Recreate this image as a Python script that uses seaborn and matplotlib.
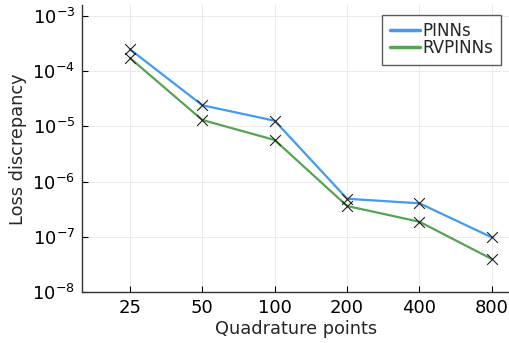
import numpy as np
import pandas as pd
import seaborn as sns
import matplotlib
matplotlib.use("Agg")
import matplotlib.pyplot as plt

quad_points = ["25", "50", "100", "200", "400", "800"]
pinns = [2.47e-4, 2.4e-5, 1.26e-5, 4.9e-7, 4.05e-7, 9.8e-8]
rvpinns = [1.72e-4, 1.3e-5, 5.65e-6, 3.62e-7, 1.88e-7, 3.98e-8]
series_names = ["PINNs", "RVPINNs"]
colors = ["#429bf2", "#56a352"]

pos = np.arange(len(quad_points))
df = pd.DataFrame({
    "pos": np.concatenate([pos, pos]),
    "loss": pinns + rvpinns,
    "method": [series_names[0]] * len(pos) + [series_names[1]] * len(pos),
})

sns.set_style("white")
plt.rcParams['font.family'] = ['DejaVu Sans']

fig = plt.figure(figsize=(5.10, 3.43), dpi=100)
ax = fig.add_axes([0.161, 0.148, 0.839, 0.837])

sns.lineplot(data=df, x="pos", y="loss", hue="method", palette=colors,
             linewidth=1.6, ax=ax, legend=True)
sns.scatterplot(data=df, x="pos", y="loss", marker="x", color="#222222",
                s=60, linewidth=0.8, ax=ax, legend=False, zorder=5)

ax.set_yscale("log")
ax.set_ylim(1e-8, 10**-2.81)
ax.set_xlim(-0.66, 5.25)
ax.set_yticks([1e-8, 1e-7, 1e-6, 1e-5, 1e-4, 1e-3])
ax.minorticks_off()
ax.set_xticks(pos)
ax.set_xticklabels(quad_points)
ax.grid(True, color="#ebebeb", linewidth=0.7)
ax.set_xlabel("Quadrature points", fontsize=12.8, labelpad=2)
ax.set_ylabel("Loss discrepancy", fontsize=12.8, labelpad=4)
ax.tick_params(axis="both", labelsize=13, direction="in", length=4, width=0.8,
               colors="black", left=True, bottom=True, pad=5)
for s in ["top", "right"]:
    ax.spines[s].set_visible(False)
for s in ["left", "bottom"]:
    ax.spines[s].set_color("#333333")
    ax.spines[s].set_linewidth(1.0)

leg = ax.legend(loc="upper right", fontsize=12, frameon=True, fancybox=False,
                handlelength=1.8, handletextpad=0.15, borderpad=0.45,
                labelspacing=-0.05, borderaxespad=0.0,
                bbox_to_anchor=(0.9785, 0.967))
leg.get_frame().set_edgecolor("#333333")
leg.get_frame().set_linewidth(1.0)
for line in leg.get_lines():
    line.set_linewidth(2.5)

fig.savefig("out.png", dpi=100)
